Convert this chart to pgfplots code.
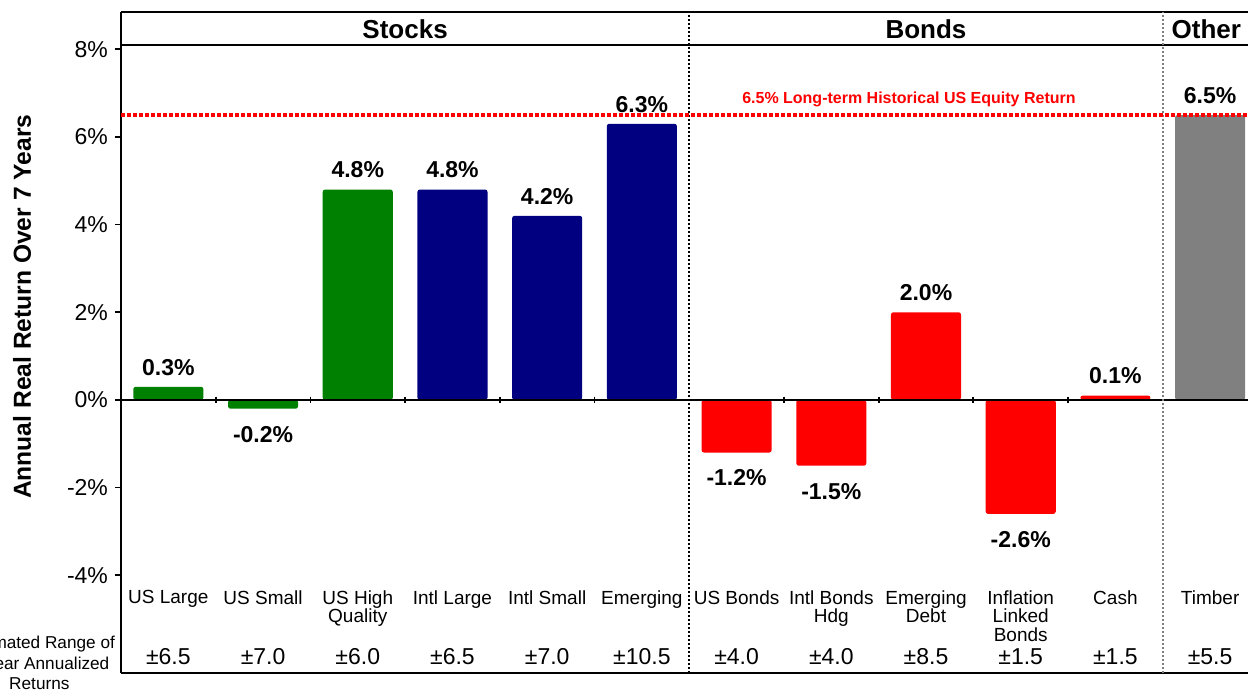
\documentclass[border=0pt]{standalone}
\usepackage{pgfplots}
\pgfplotsset{compat=1.18}
\usepackage{fontspec}
\setmainfont{Liberation Sans}

\definecolor{stkgreen}{RGB}{0,128,0}
\definecolor{stknavy}{RGB}{0,0,128}
\definecolor{bndred}{RGB}{255,0,0}
\definecolor{othgray}{RGB}{128,128,128}

\pgfplotsset{
  mybar/.style={ybar, bar width=0.74, bar shift=0pt, draw=none,
    rounded corners=1.2pt,
    nodes near coords={\pgfmathprintnumber[fixed,fixed zerofill,precision=1]{\pgfplotspointmeta}\%},
    nodes near coords style={font=\bfseries\fontsize{11.5}{13}\selectfont, inner sep=0pt, text=black}},
  pos/.style={nodes near coords style={anchor=south, yshift=5.5pt}},
  neg/.style={nodes near coords style={anchor=north, yshift=-8.5pt}},
}
\newcommand\catfont{\fontsize{9.5}{9.3}\selectfont}
\newcommand\rngfont{\fontsize{11.5}{13}\selectfont}

\begin{document}
\begin{tikzpicture}
\begin{axis}[
  scale only axis, width=563.5pt, height=330.5pt,
  xmin=-0.5, xmax=11.4, ymin=-6.23, ymax=8.85,
  axis x line*=box, axis y line*=left,
  axis line style={line width=0.9pt},
  clip=false,
  xtick=\empty,
  ytick={-4,-2,...,8},
  yticklabel={\pgfmathprintnumber{\tick}\%},
  tick align=outside, major tick length=3pt,
  tick style={line width=0.9pt, black},
  ticklabel style={font=\fontsize{11.5}{13}\selectfont},
  /pgf/number format/assume math mode=true,
  ylabel={Annual Real Return Over 7 Years},
  ylabel style={font=\bfseries\fontsize{12.3}{14}\selectfont,
    at={(axis description cs:-0.0878,0.554)}, anchor=center},
]
% stocks
\addplot[mybar, pos, fill=stkgreen] coordinates {(0,0.3) (2,4.8)};
\addplot[mybar, neg, fill=stkgreen] coordinates {(1,-0.2)};
\addplot[mybar, pos, fill=stknavy] coordinates {(3,4.8) (4,4.2) (5,6.3)};
% bonds
\addplot[mybar, neg, fill=bndred] coordinates {(6,-1.2) (7,-1.5) (9,-2.6)};
\addplot[mybar, pos, fill=bndred] coordinates {(8,2.0) (10,0.1)};
% other
\addplot[mybar, pos, fill=othgray] coordinates {(11,6.5)};

% zero line with category ticks
\addplot[sharp plot, line width=0.9pt] coordinates {(-0.5,0) (11.4,0)};
\addplot[only marks, mark=|, mark size=1.6pt, mark options={line width=0.9pt}]
  coordinates {(0.5,0) (1.5,0) (2.5,0) (3.5,0) (4.5,0) (6.5,0) (7.5,0) (8.5,0) (9.5,0)};
% header rule
\addplot[sharp plot, line width=0.9pt] coordinates {(-0.5,8.096) (11.4,8.096)};
% section dividers
\addplot[sharp plot, line width=0.8pt, dash pattern=on 1pt off 1pt] coordinates {(5.5,-6.23) (5.5,8.85)};
\addplot[sharp plot, line width=0.8pt, gray, dash pattern=on 1pt off 1pt] coordinates {(10.5,-6.23) (10.5,8.85)};
% long-term equity return
\addplot[sharp plot, bndred, line width=1.7pt, dash pattern=on 2pt off 1pt] coordinates {(-0.5,6.5) (11.4,6.5)};

\node[font=\bfseries\fontsize{13}{15}\selectfont] at (axis cs:2.5,8.45) {Stocks};
\node[font=\bfseries\fontsize{13}{15}\selectfont] at (axis cs:8,8.45) {Bonds};
\node[font=\bfseries\fontsize{13}{15}\selectfont] at (axis cs:10.96,8.45) {Other};
\node[text=bndred, font=\bfseries\fontsize{8}{9}\selectfont, anchor=base] at (axis cs:7.82,6.765)
  {6.5\% Long-term Historical US Equity Return};

% category names
\begin{scope}[every node/.style={anchor=north, inner sep=0pt, align=center, font=\catfont}]
\node at (axis cs:0,-4.333) {US Large};
\node at (axis cs:1,-4.333) {US Small};
\node at (axis cs:2,-4.333) {US High\\Quality};
\node at (axis cs:3,-4.333) {Intl Large};
\node at (axis cs:4,-4.333) {Intl Small};
\node at (axis cs:5,-4.333) {Emerging};
\node at (axis cs:6,-4.333) {US Bonds};
\node at (axis cs:7,-4.333) {Intl Bonds\\Hdg};
\node at (axis cs:8,-4.333) {Emerging\\Debt};
\node at (axis cs:9,-4.333) {Inflation\\Linked\\Bonds};
\node at (axis cs:10,-4.333) {Cash};
\node at (axis cs:11,-4.333) {Timber};
\end{scope}

% estimated ranges
\begin{scope}[every node/.style={anchor=base, inner sep=0pt, font=\rngfont}]
\node at (axis cs:0,-6.04) {±6.5};
\node at (axis cs:1,-6.04) {±7.0};
\node at (axis cs:2,-6.04) {±6.0};
\node at (axis cs:3,-6.04) {±6.5};
\node at (axis cs:4,-6.04) {±7.0};
\node at (axis cs:5,-6.04) {±10.5};
\node at (axis cs:6,-6.04) {±4.0};
\node at (axis cs:7,-6.04) {±4.0};
\node at (axis cs:8,-6.04) {±8.5};
\node at (axis cs:9,-6.04) {±1.5};
\node at (axis cs:10,-6.04) {±1.5};
\node at (axis cs:11,-6.04) {±5.5};
\end{scope}
\node[anchor=north, inner sep=0pt, align=center, font=\fontsize{8.6}{10.3}\selectfont]
  at (axis cs:-1.362,-5.382) {Estimated Range of\\7-Year Annualized\\Returns};
\end{axis}
\pgfresetboundingbox
\useasboundingbox (-60.5pt,-9.5pt) rectangle (563.5pt,336.5pt);
\end{tikzpicture}
\end{document}
